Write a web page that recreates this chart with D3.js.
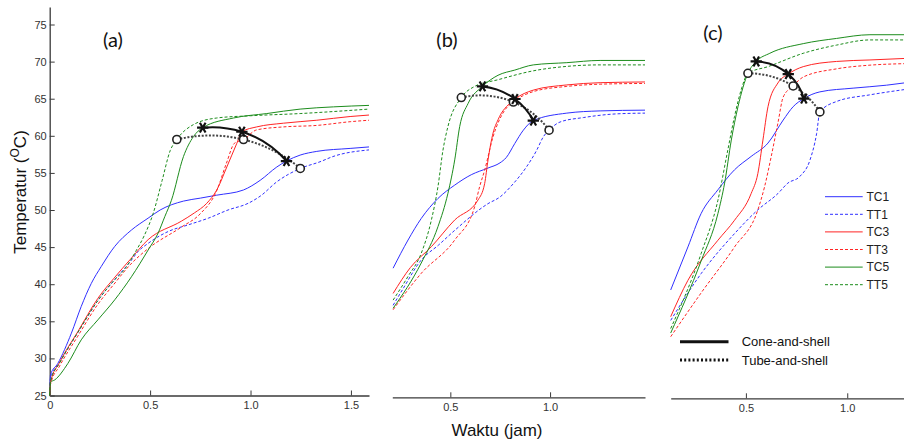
<!DOCTYPE html>
<html>
<head>
<meta charset="utf-8">
<script src="https://cdn.jsdelivr.net/npm/d3@7"></script>
<style>
  body { margin: 0; background: #fff; }
  svg { display: block; }
</style>
</head>
<body>
<svg id="chart" width="904" height="441"></svg>
<script>
// ---- Temperature histories [time (jam), temperature (°C)] ----
// Panel (a)
const a_TC1 = [[0,25],[0.004,27.8],[0.04,29.3],[0.108,33.4],[0.157,37.0],[0.207,40.1],[0.257,42.4],[0.324,45.1],[0.407,47.3],[0.49,48.9],[0.55,50.0],[0.666,51.2],[0.75,51.6],[0.832,52.0],[0.965,52.7],[1.048,54.0],[1.131,55.8],[1.179,56.6],[1.247,57.4],[1.33,57.9],[1.496,58.3],[1.59,58.5]];
const a_TT1 = [[0,25],[0.004,27.3],[0.05,29.5],[0.14,33.5],[0.24,37.8],[0.32,40.5],[0.40,43.0],[0.44,44.4],[0.49,45.5],[0.59,47.1],[0.69,48.0],[0.79,48.9],[0.888,50.0],[0.988,50.9],[1.05,51.9],[1.131,53.8],[1.248,55.6],[1.346,56.5],[1.41,57.2],[1.59,58.1]];
const a_TC3 = [[0,25],[0.004,26.8],[0.05,29.5],[0.14,33.6],[0.24,38.1],[0.32,40.8],[0.40,43.3],[0.49,46.0],[0.656,48.5],[0.72,49.6],[0.782,50.9],[0.832,52.7],[0.882,55.8],[0.932,59.0],[0.957,60.55],[1.031,61.2],[1.164,61.7],[1.33,62.1],[1.496,62.6],[1.59,62.8]];
const a_TT3 = [[0,25],[0.004,26.5],[0.05,29.0],[0.14,33.0],[0.24,37.3],[0.32,40.0],[0.40,42.6],[0.49,44.8],[0.656,47.7],[0.75,49.5],[0.83,52.5],[0.88,56.3],[0.92,59.0],[0.965,59.5],[1.031,60.8],[1.164,61.2],[1.33,61.4],[1.496,61.9],[1.59,62.1]];
const a_TC5 = [[0,25],[0.004,26.8],[0.025,27.1],[0.09,29.3],[0.157,32.5],[0.24,35.2],[0.324,37.9],[0.407,41.0],[0.49,44.6],[0.54,46.9],[0.573,49.1],[0.606,51.3],[0.666,57.2],[0.716,59.9],[0.762,61.1],[0.915,62.4],[1.081,63.0],[1.247,63.6],[1.413,63.9],[1.59,64.1]];
const a_TT5 = [[0,25],[0.004,26.9],[0.05,29.4],[0.14,33.5],[0.24,37.8],[0.32,40.5],[0.37,41.9],[0.43,44.5],[0.47,46.5],[0.516,49.6],[0.56,54.0],[0.6,58.0],[0.633,59.5],[0.715,61.5],[0.832,62.4],[1.0,62.7],[1.247,63.0],[1.59,63.6]];
const a_cone = [[0.762,61.1],[0.957,60.55],[1.179,56.6]];
const a_tube = [[0.633,59.5],[0.965,59.5],[1.248,55.6]];

// Panel (b)
const b_TC1 = [[0.213,42.4],[0.288,46.2],[0.354,49.1],[0.438,51.8],[0.522,53.6],[0.605,55.0],[0.689,55.9],[0.749,56.6],[0.78,57.3],[0.823,59.2],[0.866,61.0],[0.916,62.3],[1.084,63.3],[1.251,63.6],[1.476,63.7]];
const b_TT1 = [[0.213,37.4],[0.26,39.5],[0.354,43.5],[0.44,45.5],[0.522,47.5],[0.689,51.1],[0.749,52.0],[0.816,53.8],[0.883,56.1],[0.933,58.3],[0.966,60.1],[0.995,61.0],[1.05,62.1],[1.167,62.7],[1.334,63.2],[1.476,63.3]];
const b_TC3 = [[0.213,39.0],[0.3,42.5],[0.405,45.3],[0.522,48.9],[0.639,51.6],[0.672,53.8],[0.689,57.0],[0.714,60.6],[0.739,62.4],[0.806,64.8],[0.824,65.2],[0.916,66.4],[1.084,67.1],[1.251,67.4],[1.476,67.5]];
const b_TT3 = [[0.213,36.8],[0.354,41.7],[0.522,46.2],[0.622,50.7],[0.647,53.4],[0.672,55.6],[0.714,60.1],[0.773,63.7],[0.816,64.8],[0.916,66.2],[1.084,66.9],[1.251,67.2],[1.476,67.3]];
const b_TC5 = [[0.213,37.0],[0.354,43.1],[0.438,48.0],[0.488,52.5],[0.522,57.0],[0.547,61.5],[0.589,64.6],[0.661,66.9],[0.739,68.4],[0.823,69.1],[0.916,69.8],[1.084,70.1],[1.251,70.4],[1.476,70.4]];
const b_TT5 = [[0.213,38.1],[0.288,41.3],[0.354,44.4],[0.405,48.9],[0.438,53.4],[0.463,58.3],[0.488,61.5],[0.555,65.4],[0.622,66.9],[0.739,67.8],[0.916,69.0],[1.084,69.6],[1.251,69.8],[1.476,69.8]];
const b_cone = [[0.661,66.9],[0.824,65.2],[0.916,62.3]];
const b_tube = [[0.555,65.4],[0.816,64.8],[0.995,61.0]];

// Panel (c)
const c_TC1 = [[0.129,39.6],[0.214,45.4],[0.279,49.9],[0.362,53.1],[0.444,55.8],[0.526,57.6],[0.609,59.4],[0.684,62.5],[0.733,64.3],[0.786,65.4],[0.865,66.3],[1.029,66.8],[1.194,67.2],[1.28,67.5]];
const c_TT1 = [[0.129,35.5],[0.279,41.8],[0.444,47.2],[0.559,50.4],[0.658,52.6],[0.707,54.0],[0.766,54.9],[0.816,57.1],[0.849,60.7],[0.865,63.6],[0.947,65.0],[1.112,65.9],[1.28,66.6]];
const c_TC3 = [[0.129,36.0],[0.214,40.9],[0.362,46.3],[0.444,49.0],[0.526,52.6],[0.559,55.3],[0.584,59.8],[0.609,64.3],[0.658,67.5],[0.709,68.7],[0.783,69.7],[0.947,70.4],[1.112,70.6],[1.28,70.8]];
const c_TT3 = [[0.129,33.3],[0.279,39.2],[0.444,45.4],[0.559,50.4],[0.592,53.5],[0.625,57.6],[0.658,62.1],[0.684,65.6],[0.733,67.1],[0.783,68.3],[0.947,69.4],[1.112,69.9],[1.28,70.1]];
const c_TC5 = [[0.129,33.8],[0.279,43.5],[0.362,49.9],[0.395,54.0],[0.428,59.8],[0.461,64.3],[0.51,68.8],[0.551,70.4],[0.618,71.5],[0.783,72.8],[0.947,73.5],[1.112,74.0],[1.28,74.0]];
const c_TT5 = [[0.129,34.4],[0.279,44.5],[0.362,51.7],[0.411,58.5],[0.444,63.0],[0.477,66.6],[0.51,68.8],[0.609,69.7],[0.783,71.5],[0.947,72.6],[1.112,73.3],[1.28,73.3]];
const c_cone = [[0.551,70.4],[0.709,68.7],[0.786,65.4]];
const c_tube = [[0.51,68.8],[0.733,67.1],[0.865,63.6]];

// ---- Labels ----
const seriesNames = ["TC1", "TT1", "TC3", "TT3", "TC5", "TT5"];
const panelLabels = ["(a)", "(b)", "(c)"];
const yTicks = [25, 30, 35, 40, 45, 50, 55, 60, 65, 70, 75];
const xTicksA = [0, 0.5, 1.0, 1.5];
const xTicksBC = [0.5, 1.0];
const legendTypes = ["Cone-and-shell", "Tube-and-shell"];

// ---- Drawing ----
const svg = d3.select("#chart");
const sans = "'Liberation Sans', Arial, sans-serif";

const colorOf = name => name.endsWith("1") ? "#3030ff" : name.endsWith("3") ? "#ff2424" : "#1c8c1c";
const dashOf = name => name.startsWith("TT") ? "3,2" : null;

const tempDomain = [25, 77.36];
const plotHeight = 388.5;

const panels = [
  { label: panelLabels[0], labelPos: [113, 47], xDomain: [0, 1.59],   xRange: [49.7, 369],  base: 395.5, ticks: xTicksA,  yAxis: true,
    data: [a_TC1, a_TT1, a_TC3, a_TT3, a_TC5, a_TT5], cone: a_cone, tube: a_tube },
  { label: panelLabels[1], labelPos: [447, 47], xDomain: [0.209, 1.476], xRange: [392.3, 645], base: 397.3, ticks: xTicksBC, yAxis: false,
    data: [b_TC1, b_TT1, b_TC3, b_TT3, b_TC5, b_TT5], cone: b_cone, tube: b_tube },
  { label: panelLabels[2], labelPos: [713, 40], xDomain: [0.129, 1.28], xRange: [670.7, 904], base: 398.3, ticks: xTicksBC, yAxis: false,
    data: [c_TC1, c_TT1, c_TC3, c_TT3, c_TC5, c_TT5], cone: c_cone, tube: c_tube }
];

const tickFmt = d => d === 0 ? "0" : d3.format(".1f")(d);

// Circular arc passing through three screen points (melting-front line)
function arcThrough(p) {
  const [[x1, y1], [x2, y2], [x3, y3]] = p;
  const d = 2 * (x1 * (y2 - y3) + x2 * (y3 - y1) + x3 * (y1 - y2));
  const s1 = x1 * x1 + y1 * y1, s2 = x2 * x2 + y2 * y2, s3 = x3 * x3 + y3 * y3;
  const cx = (s1 * (y2 - y3) + s2 * (y3 - y1) + s3 * (y1 - y2)) / d;
  const cy = (s1 * (x3 - x2) + s2 * (x1 - x3) + s3 * (x2 - x1)) / d;
  const r = Math.hypot(x1 - cx, y1 - cy);
  const cross = (x2 - x1) * (y3 - y1) - (y2 - y1) * (x3 - x1);
  const sweep = cross > 0 ? 1 : 0;
  return `M${x1},${y1}A${r},${r} 0 0 ${sweep} ${x2},${y2}A${r},${r} 0 0 ${sweep} ${x3},${y3}`;
}

panels.forEach(p => {
  const x = d3.scaleLinear().domain(p.xDomain).range(p.xRange);
  const y = d3.scaleLinear().domain(tempDomain).range([p.base, p.base - plotHeight]);
  const g = svg.append("g");

  // x axis with inward ticks
  const xa = g.append("g")
    .attr("transform", `translate(0,${p.base})`)
    .call(d3.axisBottom(x).tickValues(p.ticks).tickFormat(tickFmt).tickSizeInner(-5).tickSizeOuter(0).tickPadding(6));
  xa.select(".domain").attr("stroke", "#3a3a3a").attr("stroke-width", 1.3);
  xa.selectAll(".tick line").attr("stroke", "#3a3a3a");
  xa.selectAll("text").attr("font-family", sans).attr("font-size", 11).attr("fill", "#333");

  if (p.yAxis) {
    const ya = g.append("g")
      .attr("transform", `translate(${p.xRange[0]},0)`)
      .call(d3.axisLeft(y).tickValues(yTicks).tickSizeInner(-5).tickSizeOuter(0).tickPadding(3));
    ya.select(".domain").attr("stroke", "#3a3a3a").attr("stroke-width", 1.3);
    ya.selectAll(".tick line").attr("stroke", "#3a3a3a");
    ya.selectAll("text").attr("font-family", sans).attr("font-size", 11).attr("fill", "#333");
  }

  // temperature curves
  const line = d3.line().x(d => x(d[0])).y(d => y(d[1])).curve(d3.curveMonotoneX);
  p.data.forEach((series, k) => {
    const name = seriesNames[k];
    g.append("path")
      .datum(series)
      .attr("d", line)
      .attr("fill", "none")
      .attr("stroke", colorOf(name))
      .attr("stroke-width", 1)
      .attr("stroke-dasharray", dashOf(name));
  });

  // melting-front connectors
  const toPx = pts => pts.map(d => [x(d[0]), y(d[1])]);
  g.append("path").attr("d", arcThrough(toPx(p.tube)))
    .attr("fill", "none").attr("stroke", "#444").attr("stroke-width", 2).attr("stroke-dasharray", "2,1.6");
  g.append("path").attr("d", arcThrough(toPx(p.cone)))
    .attr("fill", "none").attr("stroke", "#111").attr("stroke-width", 2);

  g.selectAll(".tube-pt").data(p.tube).join("circle")
    .attr("cx", d => x(d[0])).attr("cy", d => y(d[1])).attr("r", 4)
    .attr("fill", "#fff").attr("stroke", "#222").attr("stroke-width", 1.6);

  const star = d3.symbol().type(d3.symbolAsterisk).size(90);
  g.selectAll(".cone-pt").data(p.cone).join("path")
    .attr("d", star)
    .attr("transform", d => `translate(${x(d[0])},${y(d[1])}) rotate(30)`)
    .attr("fill", "none").attr("stroke", "#111").attr("stroke-width", 2.2);

  // panel label
  svg.append("text")
    .attr("x", p.labelPos[0]).attr("y", p.labelPos[1])
    .attr("text-anchor", "middle")
    .attr("font-family", "Lato, 'Open Sans', sans-serif")
    .attr("font-size", 20).attr("fill", "#111")
    .text(p.label);
});

// axis titles
const yTitle = svg.append("text")
  .attr("transform", "translate(26,192) rotate(-90)")
  .attr("text-anchor", "middle")
  .attr("font-family", sans).attr("font-size", 17).attr("fill", "#111");
yTitle.append("tspan").text("Temperatur (");
yTitle.append("tspan").attr("font-size", 12).attr("dy", -7).text("O");
yTitle.append("tspan").attr("dy", 7).text("C)");

svg.append("text")
  .attr("x", 497).attr("y", 436)
  .attr("text-anchor", "middle")
  .attr("font-family", sans).attr("font-size", 17).attr("fill", "#111")
  .text("Waktu (jam)");

// series legend
const leg = svg.append("g");
seriesNames.forEach((name, k) => {
  const yy = 196.7 + k * 17.6;
  leg.append("line").attr("x1", 825).attr("x2", 862.7).attr("y1", yy).attr("y2", yy)
    .attr("stroke", colorOf(name)).attr("stroke-width", 1).attr("stroke-dasharray", dashOf(name));
  leg.append("text").attr("x", 866.5).attr("y", yy + 4.2)
    .attr("font-family", sans).attr("font-size", 12).attr("fill", "#222").text(name);
});

// connector legend
legendTypes.forEach((name, k) => {
  const yy = 341.7 + k * 18.3;
  leg.append("line").attr("x1", 680).attr("x2", 728.5).attr("y1", yy).attr("y2", yy)
    .attr("stroke", "#111").attr("stroke-width", 3)
    .attr("stroke-dasharray", k === 1 ? "2,2.2" : null);
  leg.append("text").attr("x", 741.7).attr("y", yy + 4.5)
    .attr("font-family", sans).attr("font-size", 13).attr("fill", "#111").text(name);
});
</script>
</body>
</html>
